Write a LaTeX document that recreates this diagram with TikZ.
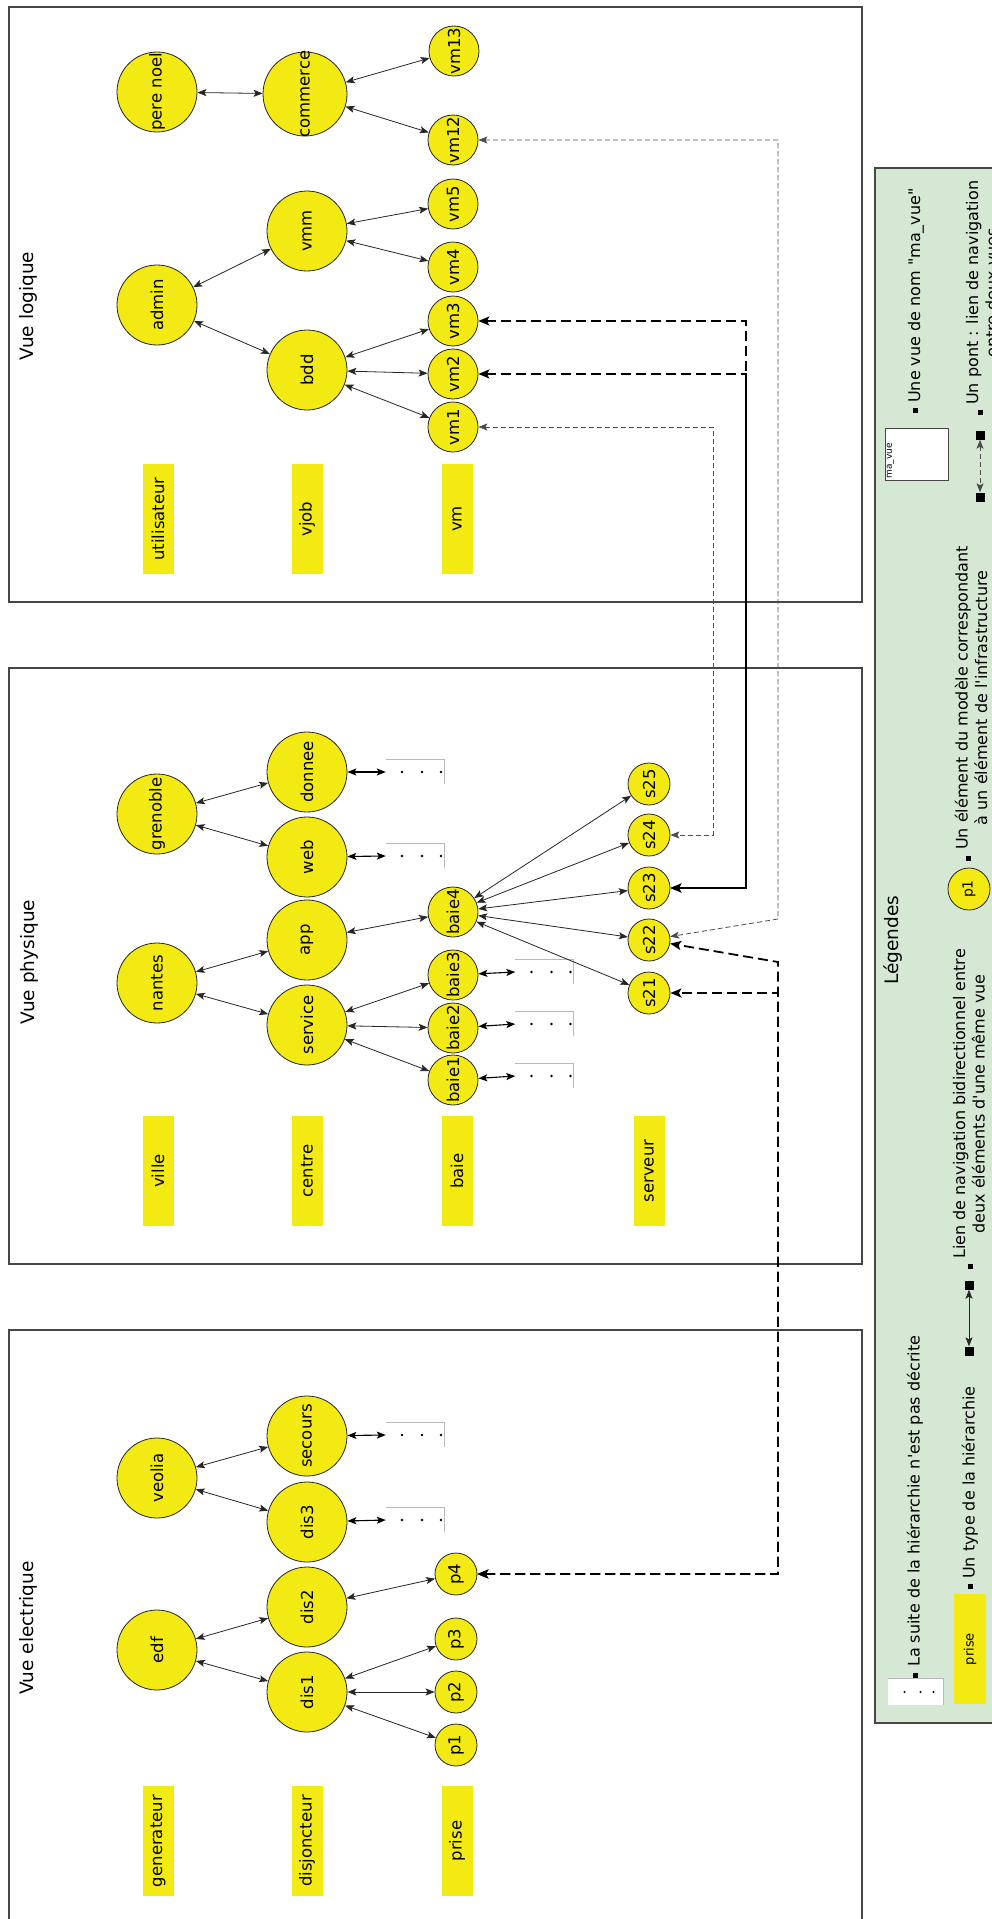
\documentclass[tikz,border=0pt]{standalone}
\usepackage{fontspec}
\setmainfont{DejaVu Sans}[Ligatures=TeXOff]
\usetikzlibrary{arrows.meta,calc}
\definecolor{ylw}{RGB}{243,233,19}
\definecolor{lgreen}{RGB}{213,232,212}
\definecolor{boxline}{RGB}{70,70,70}
\definecolor{dotline}{RGB}{185,185,185}
\newcommand\ztx[1]{\makebox[0pt]{#1}}
\newcommand\nodefnt{\fontsize{16.5}{20}\selectfont}
\newcommand\legfnt{\fontsize{16}{19.5}\selectfont}
\newcommand\titfnt{\fontsize{18.5}{22}\selectfont}
\newcommand\moredeco[1]{%
  \draw[dotline,line width=0.8pt] (#1.north west) -- (#1.north east) -- (#1.south east);
  \foreach \dx in {-13,7,26} \fill ($(#1.center)+(\dx,0)$) circle (1.3pt);}
\begin{document}
\begin{tikzpicture}[x=1pt,y=-1pt,
  big/.style={circle,draw=black!85,line width=0.8pt,fill=ylw,minimum size=80pt,inner sep=0pt,rotate=90,font=\nodefnt},
  mid/.style={big,minimum size=50pt},
  sml/.style={big,minimum size=42pt},
  lab/.style={rectangle,fill=ylw,minimum width=110pt,minimum height=31pt,inner sep=0pt,rotate=90,font=\nodefnt},
  view/.style={draw=boxline,line width=1.2pt},
  title/.style={rotate=90,font=\titfnt,inner sep=0pt},
  more/.style={rectangle,minimum width=58pt,minimum height=24pt,inner sep=0pt},
  bi/.style={{Stealth[length=9pt,width=7pt,inset=2pt]}-{Stealth[length=9pt,width=7pt,inset=2pt]},line width=0.8pt,draw=black!85},
  bim/.style={bi,line width=1.1pt,draw=black},
  thinbr/.style={{Stealth[length=9pt,width=7pt,inset=2pt]}-{Stealth[length=9pt,width=7pt,inset=2pt]},draw=black!70,line width=0.8pt,dash pattern=on 5pt off 3pt},
  thickbr/.style={{Stealth[length=11pt,width=9pt,inset=2.5pt]}-{Stealth[length=11pt,width=9pt,inset=2.5pt]},draw=black,line width=1.8pt,dash pattern=on 10pt off 5pt},
  bul/.style={rectangle,fill=black,minimum size=5pt,inner sep=0pt},
  sq/.style={rectangle,fill=black,minimum size=9pt,inner sep=0pt},
  ltxt/.style={rotate=90,anchor=west,inner sep=0pt,font=\legfnt,align=center}
]
\useasboundingbox (0,0) rectangle (991,1919);
\fill[white] (0,0) rectangle (991,1919);

% ---------- view frames ----------
\draw[view] (9,7) rectangle (862,602);
\draw[view] (9,668) rectangle (862,1264);
\draw[view] (9,1330) rectangle (862,1930);
\node[title] (tlog) at (28,306) {Vue logique};
\node[title] (tphy) at (29,962) {Vue physique};
\node[title] (tele) at (28,1628) {Vue electrique};

% ---------- logical view ----------
\node[big] (pn) at (157,92) {\ztx{pere noel}};
\node[big,minimum size=84pt] (com) at (305,94) {\ztx{commerce}};
\node[mid] (vm13) at (454,51) {vm13};
\node[mid] (vm12) at (453,140) {vm12};
\node[big] (adm) at (157,305) {\ztx{admin}};
\node[big] (vmm) at (307,231) {\ztx{vmm}};
\node[big] (bdd) at (307,370) {\ztx{bdd}};
\node[mid] (vm5) at (453,204) {vm5};
\node[mid] (vm4) at (453,267) {vm4};
\node[mid] (vm3) at (453,321) {vm3};
\node[mid] (vm2) at (453,374) {vm2};
\node[mid] (vm1) at (453,427) {vm1};
\node[lab] (lutil) at (158,519) {utilisateur};
\node[lab] (lvjob) at (307,519) {vjob};
\node[lab] (lvm) at (457,519) {vm};
\draw[bi] (pn) -- (com);
\draw[bi] (com) -- (vm13);
\draw[bi] (com) -- (vm12);
\draw[bi] (adm) -- (vmm);
\draw[bi] (adm) -- (bdd);
\draw[bi] (vmm) -- (vm5);
\draw[bi] (vmm) -- (vm4);
\draw[bi] (bdd) -- (vm3);
\draw[bi] (bdd) -- (vm2);
\draw[bi] (bdd) -- (vm1);

% ---------- physical view ----------
\node[big] (gre) at (157,814) {\ztx{grenoble}};
\node[big] (nan) at (157,983) {\ztx{nantes}};
\node[big] (don) at (307,772) {\ztx{donnee}};
\node[big] (web) at (307,857) {\ztx{web}};
\node[big] (app) at (307,940) {\ztx{app}};
\node[big] (ser) at (307,1025) {\ztx{service}};
\node[mid] (b4) at (453,912) {\ztx{baie4}};
\node[mid] (b3) at (453,975) {\ztx{baie3}};
\node[mid] (b2) at (453,1028) {\ztx{baie2}};
\node[mid] (b1) at (453,1080) {\ztx{baie1}};
\node[sml] (s25) at (649,784) {s25};
\node[sml] (s24) at (649,835) {s24};
\node[sml] (s23) at (649,888) {s23};
\node[sml] (s22) at (649,940) {s22};
\node[sml] (s21) at (649,993) {s21};
\node[lab] (lville) at (158,1171) {ville};
\node[lab] (lcentre) at (307,1171) {centre};
\node[lab] (lbaie) at (457,1171) {baie};
\node[lab] (lserv) at (649,1171) {serveur};
\node[more] (mdon) at (415,772) {};
\node[more] (mweb) at (415,856) {};
\node[more] (mb3) at (544.5,972) {};
\node[more] (mb2) at (544.5,1024) {};
\node[more] (mb1) at (544.5,1076) {};
\moredeco{mdon}
\moredeco{mweb}
\moredeco{mb3}
\moredeco{mb2}
\moredeco{mb1}
\draw[bi] (gre) -- (don);
\draw[bi] (gre) -- (web);
\draw[bi] (nan) -- (app);
\draw[bi] (nan) -- (ser);
\draw[bi] (ser) -- (b1);
\draw[bi] (ser) -- (b2);
\draw[bi] (ser) -- (b3);
\draw[bi] (app) -- (b4);
\draw[bi] (b4) -- (s21);
\draw[bi] (b4) -- (s22);
\draw[bi] (b4) -- (s23);
\draw[bi] (b4) -- (s24);
\draw[bi] (b4) -- (s25);
\draw[bim] (don) -- (mdon.west);
\draw[bim] (web) -- (mweb.west);
\draw[bim] (b3) -- (mb3.west);
\draw[bim] (b2) -- (mb2.west);
\draw[bim] (b1) -- (mb1.west);

% ---------- electrical view ----------
\node[big] (veo) at (157,1478) {\ztx{veolia}};
\node[big] (edf) at (157,1650) {\ztx{edf}};
\node[big] (sec) at (307,1436) {\ztx{secours}};
\node[big] (d3) at (307,1522) {\ztx{dis3}};
\node[big] (d2) at (307,1607) {\ztx{dis2}};
\node[big] (d1) at (307,1692) {\ztx{dis1}};
\node[sml] (p4) at (456,1574) {p4};
\node[sml] (p3) at (456,1639) {p3};
\node[sml] (p2) at (456,1692) {p2};
\node[sml] (p1) at (456,1745) {p1};
\node[lab] (lgen) at (158,1841) {generateur};
\node[lab] (ldis) at (307,1841) {disjoncteur};
\node[lab] (lpri) at (457,1841) {prise};
\node[more] (msec) at (415,1435) {};
\node[more] (md3) at (415,1520) {};
\moredeco{msec}
\moredeco{md3}
\draw[bi] (veo) -- (sec);
\draw[bi] (veo) -- (d3);
\draw[bi] (edf) -- (d2);
\draw[bi] (edf) -- (d1);
\draw[bi] (d1) -- (p1);
\draw[bi] (d1) -- (p2);
\draw[bi] (d1) -- (p3);
\draw[bi] (d2) -- (p4);
\draw[bim] (sec) -- (msec.west);
\draw[bim] (d3) -- (md3.west);

% ---------- bridges between views ----------
\draw[thinbr] (vm12) -- (778,140) -- (778,919) -- (s22);
\draw[thickbr] (vm3) -- (746,321) -- (746,888) -- (s23);
\draw[thickbr] (vm2) -- (746,374) -- (746,888) -- (s23);
\draw[thinbr] (vm1) -- (713,427) -- (713,835) -- (s24);
\draw[thickbr] (p4) -- (778,1574) -- (778,993) -- (s21);
\draw[thickbr] (p4) -- (778,1574) -- (778,962) -- (s22);

% ---------- legend ----------
\draw[draw=boxline,line width=1.2pt,fill=lgreen] (875,168) rectangle (1010,1723);
\node[rotate=90,font=\titfnt,inner sep=0pt] (leg) at (893,940) {Légendes};
% row 1
\node[rectangle,fill=white,minimum width=55pt,minimum height=26pt,inner sep=0pt] (lgdots) at (915.5,1692) {};
\draw[dotline,line width=0.8pt] (lgdots.north west) -- (lgdots.north east) -- (lgdots.south east);
\foreach \dx in {-11,5,18} \fill ($(lgdots.center)+(\dx,0)$) circle (1.2pt);
\node[bul] (bua) at (915,1675) {};
\node[ltxt] (txa) at (915,1667) {La suite de la hiérarchie n'est pas décrite};
\node[draw=boxline,line width=1pt,fill=white,minimum width=63pt,minimum height=52pt,inner sep=0pt] (mv) at (916.5,454) {};
\node[rotate=90,anchor=north west,inner sep=2pt,font=\fontsize{9}{11}\selectfont] (mvt) at (mv.south west) {ma\_vue};
\node[bul] (buc) at (915,410) {};
\node[ltxt] (txc) at (916,403) {Une vue de nom "ma\_vue"};
% row 2
\node[lab,minimum height=32pt,font=\fontsize{13}{15}\selectfont] (lgpr) at (970,1649) {prise};
\node[bul] (bud) at (970,1586) {};
\node[ltxt] (txd) at (970,1579) {Un type de la hiérarchie};
\node[sq] (e1) at (969,1285) {};
\node[sq] (e2) at (969,1351) {};
\draw[bi] (e1) -- (e2);
\node[bul] (bue) at (970,1266) {};
\node[ltxt] (txe) at (969,1259) {Lien de navigation bidirectionnel entre\\deux éléments d'une même vue};
\node[sml,font=\fontsize{14}{16}\selectfont] (lgp1) at (969,889) {p1};
\node[bul] (buf) at (968,858) {};
\node[ltxt] (txf) at (971,850) {Un élément du modèle correspondant\\à un élément de l'infrastructure};
\node[sq] (g1) at (980,435) {};
\node[sq] (g2) at (980,497) {};
\draw[thinbr] (g1) -- (g2);
\node[bul] (bug) at (980,412) {};
\node[ltxt] (txg) at (982,405) {Un pont : lien de navigation\\entre deux vues};
\end{tikzpicture}
\end{document}
